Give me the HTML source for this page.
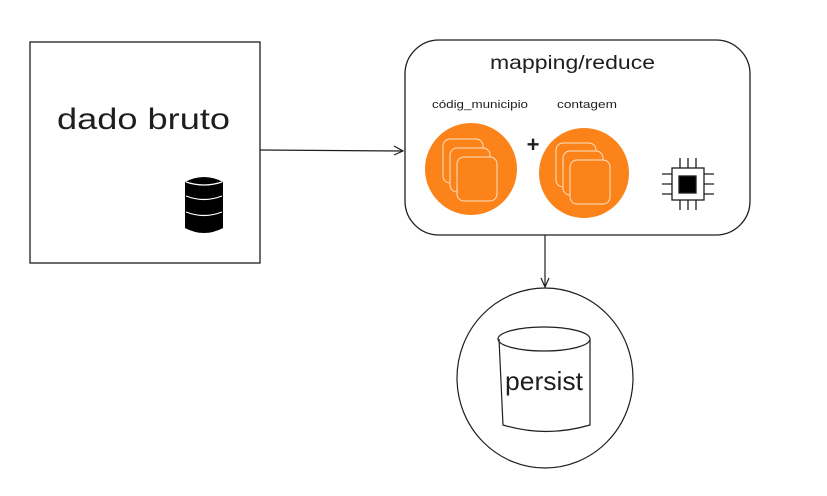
<!DOCTYPE html>
<html><head><style>
body{margin:0;background:#fff;width:827px;height:491px;overflow:hidden}
text{font-family:"Comic Sans MS","Liberation Sans",sans-serif;fill:#1e1e1e}
</style></head><body>
<svg width="827" height="491" viewBox="0 0 827 491" xmlns="http://www.w3.org/2000/svg">
<rect x="30" y="42" width="230" height="221" fill="#fff" stroke="#1e1e1e" stroke-width="1.3"/>
<text x="57" y="129" font-size="30" textLength="173" lengthAdjust="spacingAndGlyphs">dado bruto</text>
<g fill="#000" stroke="#fff" stroke-width="1.2">
<path d="M185 182 Q204 172 223 182 L223 228 Q204 238 185 228 Z" stroke="none"/>
<path d="M186 196 Q204 203 222 196" fill="none"/>
<path d="M186 212 Q204 219 222 212" fill="none"/>
<path d="M186 182 Q204 188 222 182" fill="none"/>
</g>
<line x1="260" y1="150" x2="402" y2="151" stroke="#1e1e1e" stroke-width="1.2"/>
<path d="M394 146 L403 151 L394 155" fill="none" stroke="#1e1e1e" stroke-width="1.2"/>
<rect x="405" y="40" width="345" height="195" rx="34" fill="#fff" stroke="#1e1e1e" stroke-width="1.3"/>
<text x="490" y="69" font-size="19" textLength="165" lengthAdjust="spacingAndGlyphs">mapping/reduce</text>
<text x="432" y="108" font-size="11" textLength="96" lengthAdjust="spacingAndGlyphs">códig_municipio</text>
<text x="557" y="108" font-size="11" textLength="60" lengthAdjust="spacingAndGlyphs">contagem</text>
<text x="533" y="152" font-size="22" font-weight="bold" text-anchor="middle">+</text>
<g fill="none" stroke="#fde3c8" stroke-width="1">
<circle cx="471" cy="169" r="46" fill="#fb8319" stroke="none"/>
<rect x="443" y="139" width="40" height="44" rx="7" fill="#fb8319"/>
<rect x="450" y="148" width="40" height="44" rx="7" fill="#fb8319"/>
<rect x="457" y="157" width="40" height="44" rx="7" fill="#fb8319"/>
<circle cx="584" cy="173" r="45" fill="#fb8319" stroke="none"/>
<rect x="556" y="143" width="40" height="44" rx="7" fill="#fb8319"/>
<rect x="563" y="151" width="40" height="44" rx="7" fill="#fb8319"/>
<rect x="570" y="160" width="40" height="44" rx="7" fill="#fb8319"/>
</g>
<g stroke="#1e1e1e" stroke-width="1.3" fill="none">
<rect x="672" y="168" width="32" height="32" fill="#fff"/>
<rect x="679" y="176" width="17" height="17" fill="#000"/>
<path d="M680 158v10M688 158v10M696 158v10M680 200v10M688 200v10M696 200v10M662 174h10M662 184h10M662 194h10M704 174h10M704 184h10M704 194h10"/>
</g>
<line x1="545" y1="235" x2="545" y2="286" stroke="#1e1e1e" stroke-width="1.2"/>
<path d="M541 278 L545 287 L549 278" fill="none" stroke="#1e1e1e" stroke-width="1.2"/>
<ellipse cx="545" cy="378" rx="88" ry="90" fill="none" stroke="#1e1e1e" stroke-width="1.2"/>
<path d="M499 339 L503 425 Q546 438 590 425 L590 339" fill="none" stroke="#1e1e1e" stroke-width="1.2"/>
<ellipse cx="544" cy="339" rx="46" ry="12" fill="none" stroke="#1e1e1e" stroke-width="1.2"/>
<text x="505" y="390" font-size="26" textLength="78" lengthAdjust="spacingAndGlyphs">persist</text>
</svg>
</body></html>
